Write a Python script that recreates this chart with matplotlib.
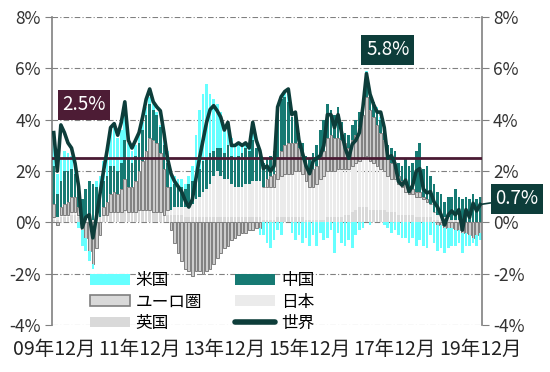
import numpy as np
import matplotlib.pyplot as plt
from matplotlib.patches import Patch
from matplotlib.lines import Line2D

plt.rcParams['font.family'] = ['Noto Sans CJK JP', 'DejaVu Sans']

# 月次データ 2009年12月〜2019年12月 (前年比, %)
world = [3.5, 2.0, 3.8, 3.5, 3.1, 2.9, 2.3, 1.4, -0.2, 0.2, 0.3, -0.6, 0.2, 1.1,
         2.0, 2.8, 3.7, 3.85, 3.4, 3.9, 4.7, 3.2, 2.9, 3.2, 3.5, 4.1, 4.8, 5.2, 4.7, 4.5, 4.35, 3.5,
         2.5, 1.9, 1.6, 1.4, 1.2, 0.85, 0.6, 0.9, 1.7, 2.5, 3.2, 3.9, 4.4, 4.55, 4.35, 4.1, 3.6, 3.9, 3.0, 3.0,
         3.1, 3.0, 3.1, 2.9, 3.9, 3.2, 2.8, 2.1, 2.2, 2.0, 2.2,
         4.5, 4.9, 5.1, 5.2, 4.2, 4.3, 3.2, 2.7, 2.2, 1.9, 2.4, 2.5, 2.6, 3.0,
         4.2, 4.2, 3.7, 4.2, 3.5, 2.9, 2.5, 3.05, 3.2, 3.5, 4.5, 5.8, 5.0, 4.6,
         4.3, 4.3, 3.7, 2.5, 2.6, 2.3, 1.6, 1.45,
         1.65, 1.2, 1.45, 2.0, 2.1, 1.3, 1.15, 1.2, 0.8, 0.6, 0.3, -0.1, 0.3, 0.45, 0.3, 0.5,
         -0.3, 0.5, 0.2, 0.75, 0.45, 0.7]

us = [1.3, 0.8, 0.9, 0.8, 0.7, 0.5, 0.2, -0.2, -0.6, -0.5, -0.4, -0.2, 0.2, 0.6,
      0.8, 1.2, 1.4, 1.5, 1.3, 1.3, 1.2, 0.6, 0.5, 0.4, 0.3, 0.3, 0.3, 0.3, 0.2, 0.1, 0.1, 0.2,
      0.5, 0.4, 0.3, 0.3, 0.3, 0.2, 0.3, 0.6, 1.5, 2.3, 2.6, 2.9, 2.3, 2.0, 1.7, 1.4, 1.0, 0.8, 0.7, 0.5,
      0.4, 0.3, 0.2, 0.1, 0.3, 0.0, -0.3, -0.5, -0.8, -1.0, -0.7,
      -0.3, -0.5, 0.2, 0.3, -0.4, -0.7, -0.5, -0.8, -0.6, -0.9, -0.5, -0.9, -0.4, -0.7,
      -0.6, -0.3, -1.2, -0.4, -0.8, -0.9, -0.7, -1.0, -0.5, -0.3, -0.2, 0.1, -0.1, 0.0,
      0.2, 0.1, -0.1, -0.2, -0.4, -0.3, -0.5, -0.6,
      -0.6, -0.8, -0.6, -0.9, -0.7, -0.9, -1.0, -0.5, -0.8, -1.0, -0.9, -1.0, -0.8, -0.7, -0.6, -0.5,
      -0.8, -0.5, -0.4, -0.2, -0.4, -0.3]

ez = [0.5, -0.1, 0.3, 0.4, 0.5, 0.6, 0.6, 0.3, -0.3, -0.6, -1.1, -1.6, -1.0, -0.5,
      0.3, 0.5, 0.7, 0.8, 0.7, 0.9, 1.2, 1.0, 1.0, 1.2, 1.5, 1.9, 2.3, 2.8, 2.8, 2.7, 2.3, 1.8,
      0.9, -0.3, -0.8, -1.2, -1.5, -1.8, -1.9, -2.1, -1.9, -1.9, -2.0, -1.9, -1.8, -1.6, -1.4, -1.2, -1.0, -0.9, -0.7, -0.6,
      -0.5, -0.4, -0.4, -0.3, -0.3, -0.2, -0.2, 0.0, 0.3, 0.4, 0.5,
      0.8, 1.0, 1.1, 1.2, 1.2, 1.1, 0.9, 0.7, 0.6, 0.6, 0.7, 0.7, 0.9, 1.0,
      1.3, 1.4, 1.3, 1.2, 1.1, 1.0, 0.8, 1.0, 1.1, 1.3, 1.7, 2.3, 2.0, 1.8,
      1.6, 1.4, 1.2, 0.7, 0.6, 0.5, 0.3, 0.2,
      0.3, 0.2, 0.2, 0.2, 0.2, 0.1, 0.1, 0.0, 0.0, -0.1, -0.1, -0.2, -0.2, -0.2, -0.3, -0.3,
      -0.4, -0.4, -0.5, -0.6, -0.5, -0.4]

uk = [0.1, 0.1, 0.2, 0.2, 0.2, 0.3, 0.3, 0.2, 0.1, 0.1, 0.1, 0.1, 0.2, 0.2,
      0.3, 0.3, 0.4, 0.4, 0.4, 0.4, 0.5, 0.4, 0.4, 0.4, 0.5, 0.5, 0.5, 0.5, 0.4, 0.4, 0.4, 0.3,
      0.3, 0.3, 0.3, 0.3, 0.3, 0.2, 0.2, 0.2, 0.2, 0.2, 0.2, 0.2, 0.2, 0.2, 0.2, 0.2, 0.2, 0.2, 0.2, 0.2,
      0.2, 0.2, 0.2, 0.2, 0.2, 0.2, 0.2, 0.1, 0.1, 0.1, 0.1,
      0.2, 0.2, 0.2, 0.2, 0.2, 0.2, 0.2, 0.2, 0.1, 0.1, 0.1, 0.1, 0.1, 0.1,
      0.2, 0.2, 0.2, 0.2, 0.2, 0.3, 0.3, 0.4, 0.5, 0.6, 0.6, 0.6, 0.5, 0.5,
      0.5, 0.5, 0.5, 0.4, 0.4, 0.4, 0.3, 0.3,
      0.3, 0.3, 0.3, 0.2, 0.2, 0.2, 0.2, 0.2, 0.1, 0.1, 0.1, 0.1, 0.1, 0.1, 0.1, 0.1,
      0.1, 0.0, 0.0, 0.0, 0.0, 0.0]

cn = [1.5, 0.9, 1.0, 1.3, 1.2, 1.1, 0.9, 0.8, 0.8, 1.2, 1.5, 1.4, 1.2, 1.0,
      1.0, 1.0, 1.1, 1.0, 0.9, 1.0, 1.5, 1.1, 0.9, 1.0, 1.1, 1.2, 1.4, 1.3, 1.2, 1.1, 1.0, 0.9,
      0.9, 0.9, 0.9, 0.8, 0.8, 0.7, 0.8, 0.9, 1.0, 1.1, 1.2, 1.2, 1.2, 1.0, 0.9, 1.1, 1.0, 1.3, 1.1, 1.1,
      1.2, 1.3, 1.4, 1.3, 1.6, 1.3, 1.1, 0.9, 0.8, 0.8, 0.9,
      1.8, 2.0, 1.9, 1.6, 1.0, 1.2, 0.6, 0.5, 0.4, 0.5, 0.6, 0.8, 1.0, 1.2,
      1.3, 1.0, 0.9, 1.2, 0.7, 0.4, 0.5, 0.6, 0.6, 0.6, 0.6, 0.9, 0.7, 0.6,
      0.5, 0.5, 0.5, 0.5, 0.6, 0.6, 0.5, 0.6,
      1.0, 0.9, 1.0, 1.6, 1.9, 1.1, 1.3, 1.1, 1.1, 0.9, 0.9, 0.6, 0.8, 0.9, 1.2, 0.9,
      0.8, 1.0, 0.9, 1.1, 0.9, 1.0]

jp = [0.1, 0.1, 0.1, 0.1, 0.1, 0.1, 0.1, 0.1, 0.0, 0.0, 0.0, 0.0, 0.0, 0.0,
      0.0, 0.0, 0.0, 0.0, 0.0, 0.0, 0.0, 0.0, 0.0, 0.0, 0.0, 0.0, 0.0, 0.0, 0.0, 0.0, 0.0, 0.0,
      0.2, 0.2, 0.3, 0.3, 0.3, 0.4, 0.5, 0.5, 0.7, 0.8, 1.0, 1.1, 1.3, 1.6, 1.8, 1.6, 1.5, 1.5, 1.3, 1.2,
      1.2, 1.2, 1.3, 1.3, 1.4, 1.4, 1.4, 1.3, 1.3, 1.3, 1.3,
      1.5, 1.6, 1.7, 1.7, 1.7, 1.8, 1.8, 1.7, 1.5, 1.3, 1.3, 1.4, 1.6, 1.7,
      1.8, 1.8, 1.8, 1.9, 1.9, 1.8, 1.8, 1.8, 1.8, 1.8, 1.9, 2.0, 1.9, 1.8,
      1.7, 1.6, 1.5, 1.4, 1.3, 1.3, 1.2, 1.1,
      0.9, 0.8, 0.8, 0.8, 0.8, 0.7, 0.6, 0.5, 0.3, 0.2, 0.1, 0.1, 0.1, 0.0, 0.0, 0.0,
      0.0, 0.0, 0.0, 0.0, 0.0, 0.0]

target = 2.5
tick_labels = ["09年12月", "11年12月", "13年12月", "15年12月", "17年12月", "19年12月"]

# 積み上げ順 (下から)
stack = [("英国", uk, "#d9d9d9", None),
         ("日本", jp, "#ebebeb", None),
         ("ユーロ圏", ez, "#cccccc", "#7f7f7f"),
         ("中国", cn, "#167a73", None),
         ("米国", us, "#66ffff", None)]

fig = plt.figure(figsize=(5.5, 3.72), dpi=100)
ax = fig.add_axes([0.0945, 0.126, 0.7818, 0.828])

x = np.arange(len(world))
pos = np.zeros(len(x))
neg = np.zeros(len(x))
for name, vals, col, ec in stack:
    v = np.array(vals)
    bottom = np.where(v >= 0, pos, neg)
    ax.bar(x, v, bottom=bottom, width=0.75, color=col,
           edgecolor=ec if ec else col, linewidth=0.7 if ec else 0, zorder=2)
    pos += np.clip(v, 0, None)
    neg += np.clip(v, None, 0)

ax.axhline(target, color="#4a1a33", lw=2, zorder=3)
ax.plot(x, world, color="#0d3d3a", lw=2.6, zorder=4)

ax.set_xlim(-0.5, len(x) - 0.5)
ax.set_ylim(-4, 8)
ax.set_yticks(range(-4, 9, 2))
ax.set_yticklabels([f"{v}%" for v in range(-4, 9, 2)])
ax.set_xticks(x[::24])
ax.set_xticklabels(tick_labels)
ax.yaxis.grid(True, linestyle=(0, (5, 2, 1, 2)), color="#808080", lw=0.8)
ax.set_axisbelow(True)

for s in ["top", "bottom"]:
    ax.spines[s].set_visible(False)
for s in ["left", "right"]:
    ax.spines[s].set_color("#808080")
    ax.spines[s].set_linewidth(1.2)

ax.tick_params(axis="y", which="both", left=True, right=True, labelleft=True, labelright=True,
               length=5, color="#808080", labelsize=12.5, labelcolor="#333333", pad=3)
ax.tick_params(axis="x", length=0, labelsize=14, labelcolor="#222222", pad=10)

# 注記
ax.text(8.5, 4.58, "2.5%", color="white", fontsize=13.5, ha="center", va="center",
        bbox=dict(boxstyle="square,pad=0.25", fc="#4d1c35", ec="none"), zorder=6)
ax.text(94, 6.72, "5.8%", color="white", fontsize=13.5, ha="center", va="center",
        bbox=dict(boxstyle="square,pad=0.25", fc="#0d3d3a", ec="none"), zorder=6)
ax.annotate("0.7%", xy=(x[-1], world[-1]), xytext=(11, 4), textcoords="offset points",
            color="white", fontsize=13.5, ha="left", va="center", annotation_clip=False,
            bbox=dict(boxstyle="square,pad=0.25", fc="#0d3d3a", ec="none"),
            arrowprops=dict(arrowstyle="-", color="#0d3d3a", lw=1.2, shrinkA=0, shrinkB=0), zorder=6)

handles = [Patch(fc="#66ffff", ec="none", label="米国"),
           Patch(fc="#d9d9d9", ec="#7f7f7f", lw=1.2, label="ユーロ圏"),
           Patch(fc="#d9d9d9", ec="none", label="英国"),
           Patch(fc="#167a73", ec="none", label="中国"),
           Patch(fc="#ebebeb", ec="none", label="日本"),
           Line2D([], [], color="#0d3d3a", lw=4, solid_capstyle="round", label="世界")]
fig.legend(handles=handles, ncol=2, loc="upper left", bbox_to_anchor=(0.148, 0.29),
           frameon=False, fontsize=12, handlelength=2.4, handleheight=0.6,
           handletextpad=0.35, labelspacing=0.25, columnspacing=2.0, borderpad=0)

fig.savefig("out.png", dpi=100)
